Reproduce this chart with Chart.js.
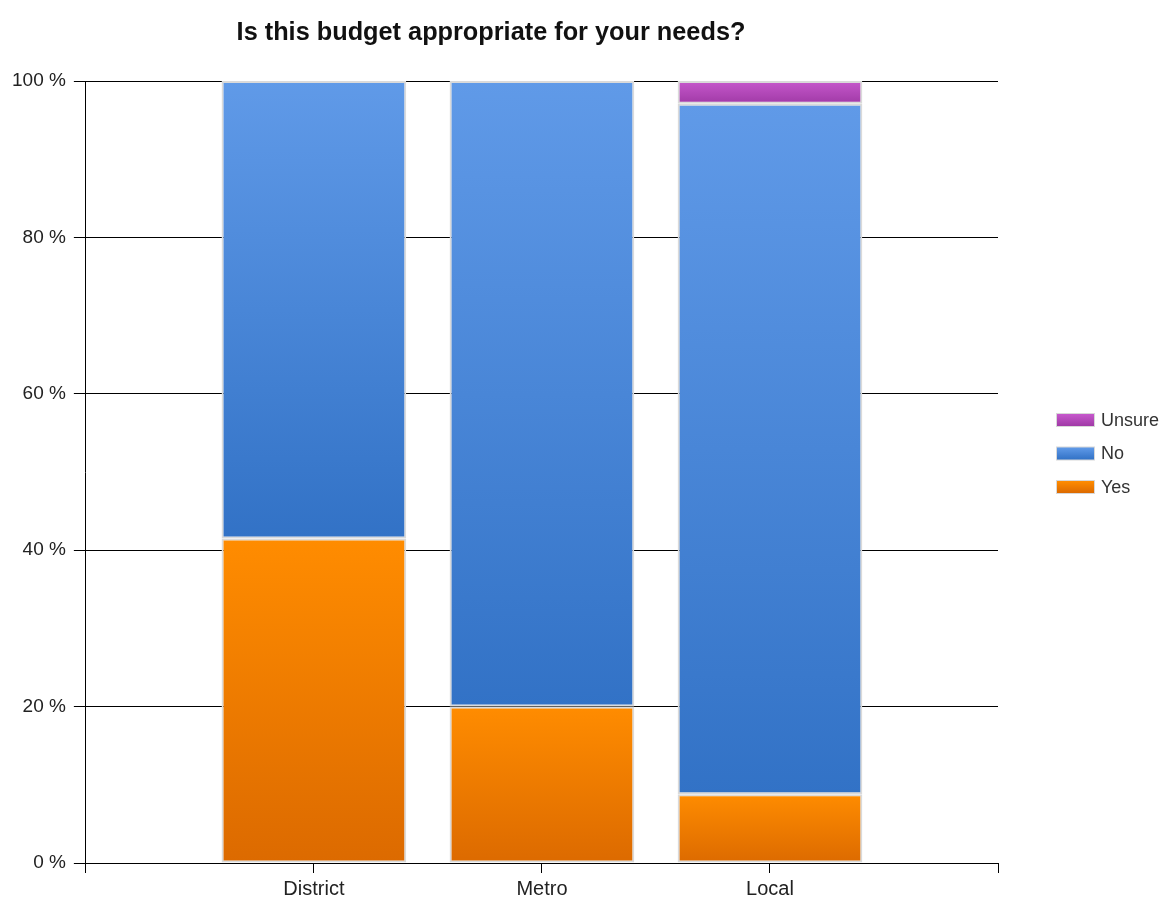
<!DOCTYPE html>
<html>
<head>
<meta charset="utf-8">
<script src="https://cdn.jsdelivr.net/npm/chart.js@4"></script>
<style>
  html, body { margin: 0; padding: 0; background: #fff; }
  #wrap { width: 1166px; height: 900px; }
</style>
</head>
<body>
<div id="wrap"><canvas id="budgetChart"></canvas></div>
<script>
const titleText = "Is this budget appropriate for your needs?";
const categories = ["District", "Metro", "Local"];
const yesValues = [41.5, 20, 8.8];
const noValues = [58.5, 80, 88.3];
const unsureValues = [0, 0, 2.9];
const yTicks = [0, 20, 40, 60, 80, 100];

// empty slots at each end so the bars sit at 1/4, 2/4, 3/4 of the axis
const pad = (arr) => [null, ...arr, null];
const labels = ["", ...categories, ""];

const FONT = "'Liberation Sans', Arial, sans-serif";

const seriesColors = {
  Yes: ["#ff8c00", "#dc6a00"],
  No: ["#609ae8", "#3272c6"],
  Unsure: ["#c658cc", "#a03aa6"],
};

// vertical gradient per stacked segment, light at top, darker at bottom
function segmentGradient(name) {
  return (ctx) => {
    const [top, bottom] = seriesColors[name];
    if (ctx.type !== "data") return top;
    const chart = ctx.chart;
    const yScale = chart.scales.y;
    if (!yScale) return top;
    let base = 0;
    for (let d = 0; d < ctx.datasetIndex; d++) {
      base += chart.data.datasets[d].data[ctx.dataIndex] || 0;
    }
    const val = ctx.raw || 0;
    const y0 = yScale.getPixelForValue(base + val);
    const y1 = yScale.getPixelForValue(base);
    if (!isFinite(y0) || !isFinite(y1) || y0 === y1) return top;
    const g = chart.ctx.createLinearGradient(0, y0, 0, y1);
    g.addColorStop(0, top);
    g.addColorStop(1, bottom);
    return g;
  };
}

const titlePlugin = {
  id: "plainTitle",
  afterDraw(chart) {
    const c = chart.ctx;
    c.save();
    c.font = "bold 25.3px " + FONT;
    c.fillStyle = "#111";
    c.textAlign = "center";
    c.textBaseline = "alphabetic";
    c.fillText(titleText, 491, 40);
    c.restore();
  },
};

// legend on the right, reversed order, drawn from the dataset colours
const sideLegend = {
  id: "sideLegend",
  afterDraw(chart) {
    const c = chart.ctx;
    const items = chart.data.datasets.slice().reverse();
    c.save();
    c.font = "18px " + FONT;
    c.textBaseline = "middle";
    c.textAlign = "left";
    items.forEach((ds, i) => {
      const yc = 420 + i * 33.5;
      const [top, bottom] = seriesColors[ds.label];
      const g = c.createLinearGradient(0, yc - 6, 0, yc + 6);
      g.addColorStop(0, top);
      g.addColorStop(1, bottom);
      c.fillStyle = "#d8d8d8";
      c.fillRect(1056, yc - 7, 39, 14);
      c.fillStyle = g;
      c.fillRect(1057, yc - 6, 37, 12);
      c.fillStyle = "#333";
      c.fillText(ds.label, 1101, yc + 1);
    });
    c.restore();
  },
};

new Chart(document.getElementById("budgetChart"), {
  type: "bar",
  data: {
    labels: labels,
    datasets: [
      { label: "Yes", data: pad(yesValues), backgroundColor: segmentGradient("Yes") },
      { label: "No", data: pad(noValues), backgroundColor: segmentGradient("No") },
      { label: "Unsure", data: pad(unsureValues), backgroundColor: segmentGradient("Unsure") },
    ],
  },
  options: {
    responsive: true,
    maintainAspectRatio: false,
    animation: false,
    datasets: {
      bar: {
        borderColor: "#dadada",
        borderWidth: 2,
        borderSkipped: false,
        barPercentage: 0.81,
        categoryPercentage: 1,
      },
    },
    layout: { padding: { top: 81, left: 4, right: 168, bottom: -5 } },
    plugins: {
      legend: { display: false },
      title: { display: false },
      tooltip: { enabled: false },
    },
    scales: {
      x: {
        stacked: true,
        offset: false,
        grid: {
          offset: false,
          drawOnChartArea: false,
          color: "#000",
          tickLength: 10,
        },
        border: { color: "#000", width: 1 },
        ticks: {
          color: "#222",
          padding: 4,
          font: { family: FONT, size: 20 },
        },
      },
      y: {
        stacked: true,
        min: 0,
        max: 100,
        afterBuildTicks: (scale) => {
          scale.ticks = yTicks.map((v) => ({ value: v }));
        },
        grid: { color: "#000", tickLength: 12 },
        border: { color: "#000", width: 1 },
        ticks: {
          color: "#222",
          padding: 8,
          font: { family: FONT, size: 19 },
          callback: (v) => v + " %",
        },
      },
    },
  },
  plugins: [titlePlugin, sideLegend],
});
</script>
</body>
</html>
